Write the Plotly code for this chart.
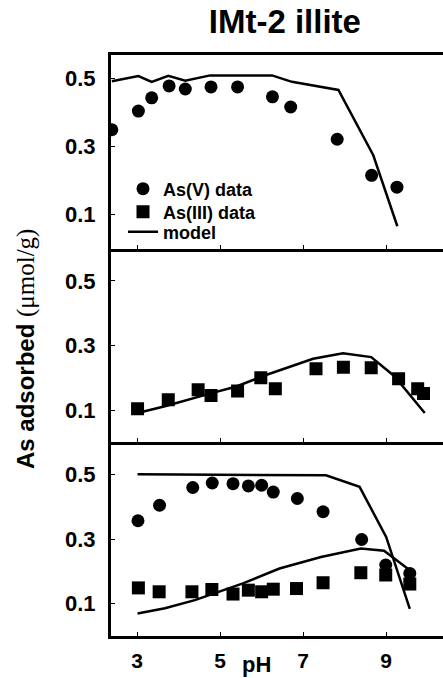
import plotly.graph_objects as go
from plotly.subplots import make_subplots

# ---- data ----
# Panel 1: As(V) only
p1_asv_ph = [2.39, 3.03, 3.35, 3.77, 4.16, 4.78, 5.42, 6.26, 6.70, 7.82, 8.65, 9.26]
p1_asv = [0.350, 0.405, 0.444, 0.479, 0.470, 0.476, 0.476, 0.447, 0.417, 0.322, 0.216, 0.181]
p1_model_ph = [2.39, 3.03, 3.35, 3.75, 4.16, 4.76, 6.25, 6.73, 7.85, 8.69, 9.27]
p1_model = [0.493, 0.508, 0.491, 0.509, 0.494, 0.510, 0.510, 0.491, 0.467, 0.275, 0.066]

# Panel 2: As(III) only
p2_asiii_ph = [3.01, 3.75, 4.47, 4.78, 5.42, 5.98, 6.33, 7.31, 7.97, 8.64, 9.30, 9.76, 9.90]
p2_asiii = [0.104, 0.132, 0.163, 0.145, 0.159, 0.200, 0.166, 0.228, 0.233, 0.231, 0.197, 0.166, 0.151]
p2_model_ph = [3.01, 3.67, 4.75, 5.39, 6.07, 7.24, 7.96, 8.64, 9.20, 9.93]
p2_model = [0.091, 0.112, 0.151, 0.173, 0.207, 0.259, 0.276, 0.264, 0.205, 0.091]

# Panel 3: both
p3_asv_ph = [3.02, 3.54, 4.34, 4.81, 5.31, 5.68, 6.00, 6.28, 6.86, 7.48, 8.41, 8.99, 9.57]
p3_asv = [0.357, 0.405, 0.460, 0.474, 0.472, 0.465, 0.467, 0.446, 0.426, 0.385, 0.299, 0.220, 0.194]
p3_asiii_ph = [3.03, 3.53, 4.32, 4.80, 5.31, 5.68, 6.00, 6.28, 6.84, 7.48, 8.39, 8.99, 9.57]
p3_asiii = [0.149, 0.137, 0.137, 0.144, 0.130, 0.142, 0.137, 0.145, 0.147, 0.165, 0.196, 0.189, 0.161]
p3_model_v_ph = [3.01, 7.55, 8.36, 9.00, 9.57]
p3_model_v = [0.501, 0.498, 0.462, 0.307, 0.084]
p3_model_iii_ph = [3.01, 3.67, 4.39, 5.55, 6.43, 7.43, 8.39, 8.95, 9.57]
p3_model_iii = [0.070, 0.086, 0.111, 0.163, 0.209, 0.245, 0.271, 0.264, 0.204]

x_ticks = [3, 5, 7, 9]
y_ticks = [0.1, 0.3, 0.5]
y_ticktext = ["0.1", "0.3", "0.5"]

FONT = "Liberation Sans, Arial, sans-serif"
BLACK = "black"
MS = 13
LW = 2.5

fig = make_subplots(rows=3, cols=1, shared_xaxes=True, vertical_spacing=0)

def markers(x, y, sym, name, show, row, leg="legend"):
    fig.add_trace(go.Scatter(x=x, y=y, mode="markers", name=name, showlegend=show,
                             legend=leg,
                             marker=dict(symbol=sym, size=MS, color=BLACK, line=dict(width=0))),
                  row=row, col=1)

def model(x, y, show, row, leg="legend"):
    fig.add_trace(go.Scatter(x=x, y=y, mode="lines", name="model", showlegend=show,
                             legend=leg,
                             line=dict(color=BLACK, width=LW)), row=row, col=1)

markers(p1_asv_ph, p1_asv, "circle", "As(V) data", True, 1, "legend")
model(p1_model_ph, p1_model, True, 1, "legend3")
markers(p2_asiii_ph, p2_asiii, "square", "As(III) data", True, 2, "legend2")
model(p2_model_ph, p2_model, False, 2)
markers(p3_asv_ph, p3_asv, "circle", "As(V) data", False, 3)
markers(p3_asiii_ph, p3_asiii, "square", "As(III) data", False, 3)
model(p3_model_v_ph, p3_model_v, False, 3)
model(p3_model_iii_ph, p3_model_iii, False, 3)

for r in (1, 2, 3):
    fig.update_xaxes(row=r, col=1, range=[2.37, 10.37], showline=True, mirror=(r == 1),
                     linecolor=BLACK, linewidth=3, showgrid=False, zeroline=False,
                     tickvals=x_ticks, ticks="inside", ticklen=4, tickwidth=1,
                     tickcolor=BLACK, showticklabels=(r == 3),
                     tickfont=dict(family=FONT, size=21, color=BLACK, weight="bold"),
                     ticklabelstandoff=4)
    fig.update_yaxes(row=r, col=1, range=[0, 0.57] if r == 1 else [0, 0.6],
                     showline=True, linecolor=BLACK, linewidth=3, showgrid=False,
                     zeroline=False, tickvals=y_ticks, ticktext=y_ticktext,
                     ticks="inside", ticklen=4, tickwidth=1, tickcolor=BLACK,
                     tickfont=dict(family=FONT, size=22, color=BLACK, weight="bold"),
                     ticklabelstandoff=8)

LEGFONT = dict(family=FONT, size=18, color=BLACK, weight="bold")
def leg(ypx):
    return dict(x=(123 - 111) / 332, y=(636 - ypx) / 581, xanchor="left", yanchor="middle",
                bgcolor="rgba(0,0,0,0)", borderwidth=0, font=LEGFONT)

fig.update_layout(
    width=443, height=678,
    margin=dict(l=111, r=0, t=55, b=42),
    paper_bgcolor="white", plot_bgcolor="white",
    title=dict(text="IMt-2 illite", x=0.643, xref="container", xanchor="center",
               y=1 - 21 / 678, yref="container", yanchor="middle",
               font=dict(family=FONT, size=33, color=BLACK, weight="bold")),
    legend=leg(189), legend2=leg(212), legend3=leg(232),
    annotations=[
        dict(text="<b>As adsorbed</b> <span style='font-family:Liberation Serif, Times New Roman, serif; font-size:25px'>(μmol/g)</span>",
             xref="paper", yref="paper", x=-(111 - 26) / 332, y=(636 - 349) / 581,
             xanchor="center", yanchor="middle", textangle=-90, showarrow=False,
             font=dict(family=FONT, size=24, color=BLACK)),
        dict(text="<b>pH</b>", xref="paper", yref="paper", x=(256 - 111) / 332,
             y=-(650 - 636) / 581, xanchor="center", yanchor="top", showarrow=False,
             font=dict(family=FONT, size=22, color=BLACK)),
    ],
)

fig.write_html("out.html", config={"displayModeBar": False},
               post_script="document.body.style.margin='0';")
